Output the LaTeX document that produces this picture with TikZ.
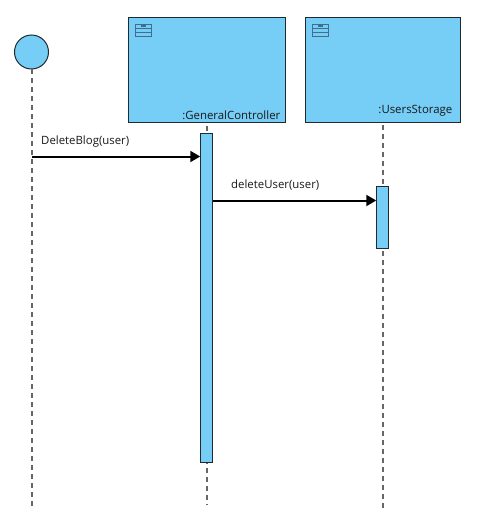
\documentclass[tikz,border=0pt]{standalone}
\usepackage{fontspec}
\setmainfont{Open Sans}
\usetikzlibrary{arrows.meta,calc}
\definecolor{lifeblue}{HTML}{76CDF5}
\definecolor{icondark}{HTML}{3F6F8C}
\definecolor{lineborder}{HTML}{1F2A30}

\begin{document}
\begin{tikzpicture}[
    x=1pt,y=-1pt,
    >={Triangle[length=10pt,width=11pt]},
    object/.style={
        rectangle,
        draw=lineborder,
        fill=lifeblue,
        line width=1pt,
        minimum height=105pt,
        inner sep=0pt
    },
    actor/.style={
        circle,
        draw=lineborder,
        fill=lifeblue,
        line width=1pt,
        minimum size=34pt,
        inner sep=0pt
    },
    activation/.style={
        rectangle,
        draw=lineborder,
        fill=lifeblue,
        line width=1pt,
        minimum width=11.5pt,
        inner sep=0pt
    },
    lifeline/.style={dash pattern=on 5pt off 4pt,gray!80!black,line width=1.6pt},
    message/.style={->,line width=2pt,black},
    msglabel/.style={font=\fontsize{11.4}{13}\selectfont,text=black!90,inner sep=0pt},
    icon/.style={draw=icondark,line width=0.9pt}
]
\useasboundingbox (0,0) rectangle (478,509);

% Lifeline heads
\node[actor] (user) at (31.5,52) {};
\node[object,minimum width=157pt] (general) at (206.5,69.5) {};
\node[object,minimum width=155pt] (storage) at (382.5,69.5) {};

% Free ends of the lifelines
\coordinate (usertop) at (32,69);
\coordinate (userend) at (32,509);
\coordinate (generaltop) at (207,126);
\coordinate (generalend) at (207,505);
\coordinate (storagetop) at (383,125);
\coordinate (storageend) at (383,509);

\draw[lifeline] (usertop) -- (userend);
\draw[lifeline] (generaltop) -- (generalend);
\draw[lifeline] (storagetop) -- (storageend);

% Activation bars
\node[activation,minimum height=329pt] (generalbar) at (206.5,297.5) {};
\node[activation,minimum height=62pt] (storagebar) at (382.5,217) {};

% Object names
\node[msglabel,anchor=south east] (generalname) at (280.5,119.5) {:GeneralController};
\node[msglabel,anchor=south east] (storagename) at (452.5,116.5) {:UsersStorage};

% Class icons
\draw[icon] (135,24) rectangle (151.5,36);
\draw[icon] (135,28) -- (151.5,28);
\draw[icon] (135,32) -- (151.5,32);
\fill[icondark] (141,24) rectangle (146,27);
\draw[icon] (312,24) rectangle (328.5,36);
\draw[icon] (312,28) -- (328.5,28);
\draw[icon] (312,32) -- (328.5,32);
\fill[icondark] (318,24) rectangle (323,27);

% Messages
\coordinate (deleteblogstart) at (32,156.5);
\coordinate (deleteuserstart) at (212.5,200.5);
\draw[message] (deleteblogstart) -- (deleteblogstart -| generalbar.west);
\draw[message] (deleteuserstart) -- (deleteuserstart -| storagebar.west);
\node[msglabel,anchor=west] (deleteblog) at (41,142) {DeleteBlog(user)};
\node[msglabel,anchor=west] (deleteuser) at (231,185.5) {deleteUser(user)};

\end{tikzpicture}
\end{document}
